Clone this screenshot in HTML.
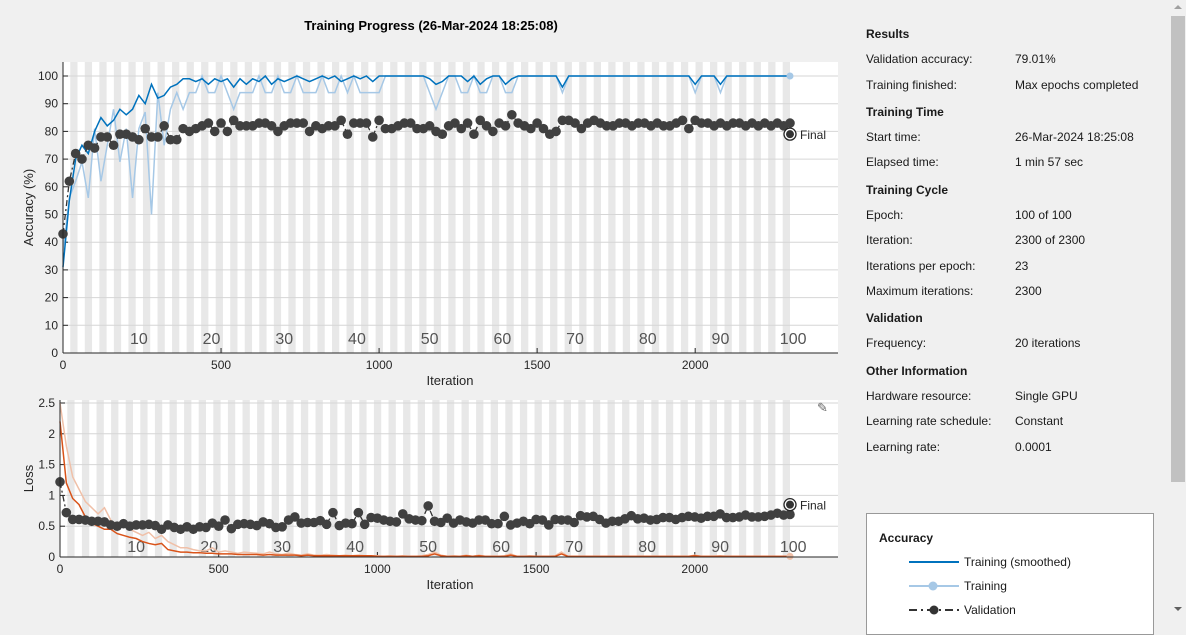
<!DOCTYPE html>
<html><head><meta charset="utf-8"><style>
body{margin:0;width:1186px;height:620px;background:#f0f0f0;font-family:"Liberation Sans",sans-serif;overflow:hidden;position:relative}
.t{position:absolute;font-size:12px;color:#1a1a1a;white-space:nowrap}
.h{font-weight:bold}
</style></head><body>
<svg id="chart" width="860" height="620" style="position:absolute;left:0;top:0"></svg>
<div class="t h" style="left:866px;top:27px">Results</div>
<div class="t" style="left:866px;top:52px">Validation accuracy:</div>
<div class="t" style="left:1015px;top:52px">79.01%</div>
<div class="t" style="left:866px;top:78px">Training finished:</div>
<div class="t" style="left:1015px;top:78px">Max epochs completed</div>
<div class="t h" style="left:866px;top:105px">Training Time</div>
<div class="t" style="left:866px;top:130px">Start time:</div>
<div class="t" style="left:1015px;top:130px">26-Mar-2024 18:25:08</div>
<div class="t" style="left:866px;top:155px">Elapsed time:</div>
<div class="t" style="left:1015px;top:155px">1 min 57 sec</div>
<div class="t h" style="left:866px;top:183px">Training Cycle</div>
<div class="t" style="left:866px;top:208px">Epoch:</div>
<div class="t" style="left:1015px;top:208px">100 of 100</div>
<div class="t" style="left:866px;top:233px">Iteration:</div>
<div class="t" style="left:1015px;top:233px">2300 of 2300</div>
<div class="t" style="left:866px;top:259px">Iterations per epoch:</div>
<div class="t" style="left:1015px;top:259px">23</div>
<div class="t" style="left:866px;top:284px">Maximum iterations:</div>
<div class="t" style="left:1015px;top:284px">2300</div>
<div class="t h" style="left:866px;top:311px">Validation</div>
<div class="t" style="left:866px;top:336px">Frequency:</div>
<div class="t" style="left:1015px;top:336px">20 iterations</div>
<div class="t h" style="left:866px;top:364px">Other Information</div>
<div class="t" style="left:866px;top:389px">Hardware resource:</div>
<div class="t" style="left:1015px;top:389px">Single GPU</div>
<div class="t" style="left:866px;top:414px">Learning rate schedule:</div>
<div class="t" style="left:1015px;top:414px">Constant</div>
<div class="t" style="left:866px;top:440px">Learning rate:</div>
<div class="t" style="left:1015px;top:440px">0.0001</div>
<div style="position:absolute;left:866px;top:513px;width:286px;height:120px;background:#fff;border:1px solid #999">
  <div class="t h" style="left:12px;top:17px;font-weight:bold">Accuracy</div>
  <svg width="60" height="80" style="position:absolute;left:42px;top:38px">
    <line x1="0" y1="10" x2="50" y2="10" stroke="#0072bd" stroke-width="2"/>
    <line x1="0" y1="34" x2="50" y2="34" stroke="#a6c8e6" stroke-width="2"/><circle cx="24" cy="34" r="4.5" fill="#a6c8e6"/>
    <line x1="0" y1="58" x2="50" y2="58" stroke="#333" stroke-width="2" stroke-dasharray="8,4,2,4"/><circle cx="25" cy="58" r="4.5" fill="#333"/>
  </svg>
  <div class="t" style="left:97px;top:41px">Training (smoothed)</div>
  <div class="t" style="left:97px;top:65px">Training</div>
  <div class="t" style="left:97px;top:89px">Validation</div>
</div>
<div style="position:absolute;left:1170px;top:0;width:16px;height:620px;background:#f0f0f0">
  <div style="position:absolute;left:1px;top:16px;width:14px;height:466px;background:#c1c1c1"></div>
  <div style="position:absolute;left:4px;top:5px;width:0;height:0;border-left:4px solid transparent;border-right:4px solid transparent;border-bottom:4px solid #a0a0a0"></div>
  <div style="position:absolute;left:4px;top:607px;width:0;height:0;border-left:4px solid transparent;border-right:4px solid transparent;border-top:4px solid #606060"></div>
</div>
<script>
const valAcc=[43,62,72,70,75,74,78,78,75,79,79,78,77,81,78,78,82,77,77,81,80,81,82,83,80,83,80,84,82,82,82,83,83,82,80,82,83,83,83,80,82,81,82,82,84,79,83,83,83,78,84,81,81,82,83,83,81,81,82,80,79,82,83,81,83,79,84,82,80,83,82,86,83,82,81,83,81,79,80,84,84,83,81,83,84,83,82,82,83,83,82,83,83,82,83,82,82,83,84,81,84,83,83,82,83,82,83,83,82,83,82,83,82,83,82,83];
const valLoss=[1.22,0.72,0.61,0.61,0.6,0.58,0.58,0.57,0.52,0.5,0.54,0.5,0.52,0.52,0.53,0.51,0.45,0.52,0.48,0.45,0.49,0.45,0.49,0.48,0.55,0.5,0.6,0.46,0.53,0.54,0.53,0.51,0.57,0.54,0.48,0.49,0.6,0.65,0.55,0.56,0.56,0.59,0.53,0.72,0.51,0.55,0.54,0.72,0.53,0.64,0.63,0.6,0.58,0.57,0.7,0.62,0.6,0.59,0.83,0.58,0.56,0.63,0.55,0.6,0.57,0.55,0.6,0.6,0.54,0.54,0.66,0.52,0.55,0.58,0.54,0.61,0.6,0.52,0.61,0.6,0.6,0.56,0.67,0.65,0.66,0.61,0.55,0.58,0.58,0.62,0.67,0.62,0.63,0.6,0.61,0.64,0.64,0.61,0.64,0.66,0.65,0.63,0.66,0.66,0.7,0.64,0.64,0.65,0.68,0.65,0.65,0.66,0.68,0.71,0.68,0.69];
const accSmooth=[31,55,70,75,72,80,85,82,84,88,86,88,93,90,97,92,93,96,97,99,99,98,99,97,99,98,99,96,99,97,99,98,100,97,99,98,99,100,99,98,99,100,99,100,98,99,100,99,100,98,100,100,100,100,100,100,100,100,99,97,98,100,100,100,98,100,97,99,100,100,97,99,100,100,100,100,100,100,100,96,100,100,100,100,100,100,100,100,100,100,100,100,100,100,100,100,100,100,100,100,97,100,100,100,97,100,100,100,100,100,100,100,100,100,100,100];
const accRaw=[37,56,62,69,56,81,62,75,88,69,81,56,81,87,50,94,75,88,94,88,94,94,100,94,94,100,94,88,94,94,94,100,94,94,100,94,94,100,94,94,94,100,94,94,100,94,100,94,94,94,94,100,100,100,100,100,100,100,94,88,94,100,100,94,94,100,94,94,100,100,94,94,100,100,100,100,100,100,100,94,100,100,100,100,100,100,100,100,100,100,100,100,100,100,100,100,100,100,100,100,94,100,100,100,94,100,100,100,100,100,100,100,100,100,100,100];
const lossSmooth=[2.2,1.2,0.95,0.85,0.65,0.55,0.5,0.45,0.45,0.38,0.35,0.32,0.3,0.25,0.22,0.2,0.22,0.12,0.1,0.08,0.08,0.07,0.07,0.06,0.06,0.05,0.05,0.05,0.04,0.04,0.04,0.04,0.03,0.04,0.03,0.03,0.03,0.03,0.02,0.03,0.02,0.02,0.02,0.02,0.02,0.02,0.02,0.02,0.02,0.02,0.01,0.01,0.01,0.01,0.01,0.01,0.01,0.01,0.02,0.05,0.02,0.01,0.01,0.01,0.02,0.01,0.02,0.01,0.01,0.01,0.01,0.03,0.01,0.01,0.01,0.01,0.01,0.01,0.01,0.05,0.01,0.01,0.01,0.01,0.01,0.01,0.01,0.01,0.01,0.01,0.01,0.01,0.01,0.01,0.01,0.01,0.01,0.01,0.01,0.01,0.02,0.01,0.01,0.01,0.01,0.01,0.01,0.01,0.01,0.01,0.01,0.01,0.01,0.01,0.01,0.01];
const lossRaw=[2.5,1.8,1.3,1.1,0.9,0.8,0.7,0.8,0.6,0.5,0.5,0.45,0.4,0.35,0.4,0.3,0.35,0.25,0.2,0.15,0.15,0.12,0.1,0.1,0.15,0.08,0.1,0.08,0.06,0.08,0.07,0.06,0.05,0.08,0.05,0.04,0.06,0.04,0.03,0.05,0.03,0.03,0.04,0.03,0.02,0.03,0.02,0.03,0.02,0.02,0.02,0.01,0.02,0.01,0.02,0.01,0.01,0.02,0.04,0.08,0.03,0.01,0.02,0.01,0.03,0.01,0.03,0.01,0.01,0.01,0.02,0.05,0.01,0.01,0.02,0.01,0.01,0.01,0.02,0.08,0.01,0.01,0.01,0.01,0.01,0.01,0.01,0.01,0.01,0.01,0.01,0.01,0.01,0.01,0.01,0.01,0.01,0.01,0.01,0.01,0.03,0.01,0.01,0.01,0.02,0.01,0.01,0.01,0.01,0.01,0.01,0.01,0.01,0.01,0.01,0.01];
const accTicks=[0,10,20,30,40,50,60,70,80,90,100];
const lossTicks=[0,0.5,1,1.5,2,2.5];
const iterTicks=[0,500,1000,1500,2000];
const epochLabels=[10,20,30,40,50,60,70,80,90,100];
const step=20, itersPerEpoch=23, numEpochs=100, finalAcc=79.01, finalLoss=0.85;

const svg=document.getElementById('chart');
const NS='http://www.w3.org/2000/svg';
function mk(tag,attrs,parent){const e=document.createElementNS(NS,tag);for(const k in attrs)e.setAttribute(k,attrs[k]);(parent||svg).appendChild(e);return e;}

function panel(cfg){
  const g=mk('g',{});
  
  
  const X=i=>cfg.x0+i*(cfg.x1-cfg.x0)/2300;
  const Y=v=>cfg.yb-(v-cfg.ymin)*(cfg.yb-cfg.yt)/(cfg.ymax-cfg.ymin);
  const bg=mk('rect',{x:cfg.x0,y:cfg.top,width:cfg.right-cfg.x0,height:cfg.yb-cfg.top,fill:'#fff'},g);
  
  
  for(let k=2;k<=numEpochs;k+=2){
    const s=mk('rect',{x:X((k-1)*itersPerEpoch),y:cfg.top,width:X(k*itersPerEpoch)-X((k-1)*itersPerEpoch),height:cfg.yb-cfg.top,fill:'#e8e8e8'},g);
    
    
  }
  cfg.yticks.forEach(v=>{
    const l=mk('line',{x1:cfg.x0,x2:cfg.right,y1:Y(v),y2:Y(v),stroke:'#d6d6d6','stroke-width':1},g);
    
    
    mk('line',{x1:cfg.x0,x2:cfg.x0+5,y1:Y(v),y2:Y(v),stroke:'#262626'},g);
    const t=mk('text',{x:cfg.x0-5,y:Y(v)+4,'text-anchor':'end','font-size':12,fill:'#262626'},g);
    t.textContent=v;
    
    
  });
  iterTicks.forEach(v=>{
    mk('line',{x1:X(v),x2:X(v),y1:cfg.yb,y2:cfg.yb-5,stroke:'#262626'},g);
    const t=mk('text',{x:X(v),y:cfg.yb+16,'text-anchor':'middle','font-size':12,fill:'#262626'},g);
    t.textContent=v;
    
    
  });
  epochLabels.forEach(e=>{
    const t=mk('text',{x:X(e*itersPerEpoch+10),y:cfg.epochY,'text-anchor':'middle','font-size':16,fill:'#555'},g);
    t.textContent=e;
    
    
  });
  const raw=mk('polyline',{points:cfg.raw.map((v,i)=>X(i*step)+','+Y(v)).join(' '),fill:'none',stroke:cfg.rawColor,'stroke-width':1.5},g);
  
  
  const sm=mk('polyline',{points:cfg.smooth.map((v,i)=>X(i*step)+','+Y(v)).join(' '),fill:'none',stroke:cfg.color,'stroke-width':1.5},g);
  
  
  mk('circle',{cx:X(2300),cy:Y(cfg.smooth[cfg.smooth.length-1]),r:3.5,fill:cfg.rawColor},g);
  const vl=mk('polyline',{points:cfg.val.map((v,i)=>X(i*step)+','+Y(v)).join(' '),fill:'none',stroke:'#333','stroke-width':1.3,'stroke-dasharray':'6,3,2,3'},g);
  
  
  cfg.val.forEach((v,i)=>{
    const c=mk('circle',{cx:X(i*step),cy:Y(v),r:4.8,fill:'#404040'},g);
    
    
  });
  const fx=X(2300),fy=Y(cfg.final);
  const fr=mk('circle',{cx:fx,cy:fy,r:6,fill:'#fff',stroke:'#262626','stroke-width':1.3},g);
  
  
  mk('circle',{cx:fx,cy:fy,r:4,fill:'#333'},g);
  const ft=mk('text',{x:fx+10,y:fy+5,'font-size':12,fill:'#262626'},g);
  ft.textContent='Final';
  
  
  mk('line',{x1:cfg.x0,x2:cfg.x0,y1:cfg.top,y2:cfg.yb,stroke:'#262626'},g);
  mk('line',{x1:cfg.x0,x2:cfg.right,y1:cfg.yb,y2:cfg.yb,stroke:'#262626'},g);
  const xl=mk('text',{x:450,y:cfg.yb+32,'text-anchor':'middle','font-size':13,fill:'#262626'},g);
  xl.textContent='Iteration';
  
  
  const yc=(cfg.top+cfg.yb)/2;
  const yl=mk('text',{x:cfg.ylabX,y:yc,'text-anchor':'middle','font-size':13,fill:'#262626',transform:'rotate(-90 '+cfg.ylabX+' '+yc+')'},g);
  yl.textContent=cfg.ylabel;
  
  
}
const title=mk('text',{x:431,y:30,'text-anchor':'middle','font-size':13,'font-weight':'bold',fill:'#000'});
title.textContent='Training Progress (26-Mar-2024 18:25:08)';


panel({name:'accuracy-panel',x0:63,x1:790,right:838,top:62,yt:76,yb:353,ymin:0,ymax:100,yticks:accTicks,epochY:344,raw:accRaw,smooth:accSmooth,val:valAcc,final:finalAcc,color:'#0072bd',rawColor:'#a6c8e6',ylabel:'Accuracy (%)',ylabX:33});
panel({name:'loss-panel',x0:60,x1:790,right:838,top:400,yt:403,yb:557,ymin:0,ymax:2.5,yticks:lossTicks,epochY:552,raw:lossRaw,smooth:lossSmooth,val:valLoss,final:finalLoss,color:'#d95319',rawColor:'#f0c0a8',ylabel:'Loss',ylabX:33});
const ic=mk('text',{x:817,y:412,'font-size':13,fill:'#666'});
ic.textContent='✎';


</script>
</body></html>
